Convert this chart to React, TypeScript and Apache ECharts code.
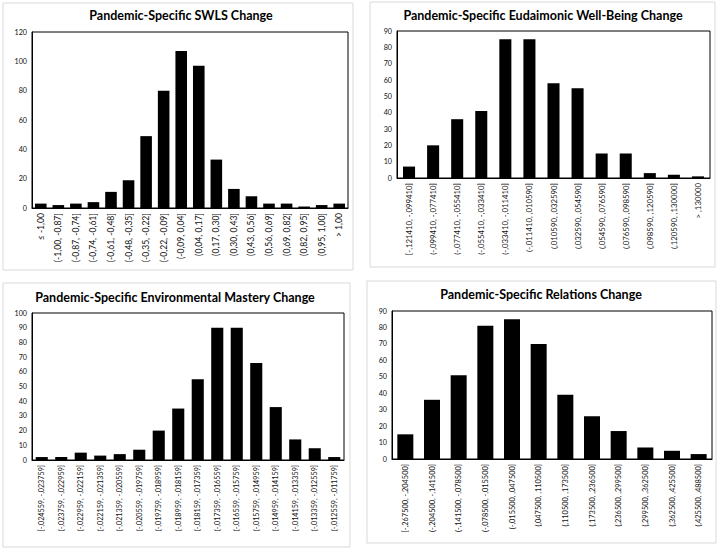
import React, { useEffect, useRef } from "react";
import * as echarts from "echarts";

const swlsCategories = [
  "≤ -1,00", "(-1,00, -0,87]", "(-0,87, -0,74]", "(-0,74, -0,61]", "(-0,61, -0,48]",
  "(-0,48, -0,35]", "(-0,35, -0,22]", "(-0,22, -0,09]", "(-0,09, 0,04]", "(0,04, 0,17]",
  "(0,17, 0,30]", "(0,30, 0,43]", "(0,43, 0,56]", "(0,56, 0,69]", "(0,69, 0,82]",
  "(0,82, 0,95]", "(0,95, 1,00]", "> 1,00",
];
const swlsValues = [3, 2, 3, 4, 11, 19, 49, 80, 107, 97, 33, 13, 8, 3, 3, 1, 2, 3];

const eudCategories = [
  "[-,121410, -,099410]", "(-,099410, -,077410]", "(-,077410, -,055410]", "(-,055410, -,033410]",
  "(-,033410, -,011410]", "(-,011410, ,010590]", "(,010590, ,032590]", "(,032590, ,054590]",
  "(,054590, ,076590]", "(,076590, ,098590]", "(,098590, ,120590]", "(,120590, ,130000]",
  "> ,130000",
];
const eudValues = [7, 20, 36, 41, 85, 85, 58, 55, 15, 15, 3, 2, 1];

const envCategories = [
  "[-,024559, -,023759]", "(-,023759, -,022959]", "(-,022959, -,022159]", "(-,022159, -,021359]",
  "(-,021359, -,020559]", "(-,020559, -,019759]", "(-,019759, -,018959]", "(-,018959, -,018159]",
  "(-,018159, -,017359]", "(-,017359, -,016559]", "(-,016559, -,015759]", "(-,015759, -,014959]",
  "(-,014959, -,014159]", "(-,014159, -,013359]", "(-,013359, -,012559]", "(-,012559, -,011759]",
];
const envValues = [2, 2, 5, 3, 4, 7, 20, 35, 55, 90, 90, 66, 36, 14, 8, 2];

const relCategories = [
  "[-,267500, -,204500]", "(-,204500, -,141500]", "(-,141500, -,078500]", "(-,078500, -,015500]",
  "(-,015500, ,047500]", "(,047500, ,110500]", "(,110500, ,173500]", "(,173500, ,236500]",
  "(,236500, ,299500]", "(,299500, ,362500]", "(,362500, ,425500]", "(,425500, ,488500]",
];
const relValues = [15, 36, 51, 81, 85, 70, 39, 26, 17, 7, 5, 3];

const titles = [
  "Pandemic-Specific SWLS Change",
  "Pandemic-Specific Eudaimonic Well-Being Change",
  "Pandemic-Specific Environmental Mastery Change",
  "Pandemic-Specific Relations Change",
];
const yMax = [120, 90, 100, 90];
const yStep = [20, 10, 10, 10];

const FONT = "Lato";

export default function App() {
  const ref = useRef<HTMLDivElement>(null);
  useEffect(() => {
    document.body.style.margin = "0";
    const chart = echarts.init(ref.current!, null, { renderer: "svg" });
    const cats = [swlsCategories, eudCategories, envCategories, relCategories];
    const vals = [swlsValues, eudValues, envValues, relValues];
    const grids = [
      { left: 32, top: 32, width: 316, height: 176 },
      { left: 397, top: 31, width: 313, height: 147 },
      { left: 32, top: 313, width: 312, height: 147 },
      { left: 392, top: 311, width: 320, height: 148 },
    ];
    const titlePos = [
      { left: 181, top: 9 },
      { left: 543, top: 9 },
      { left: 175, top: 291 },
      { left: 541, top: 288 },
    ];
    const gaps = ["34%", "50%", "38%", "40%"];
    const xFont = [8.6, 7.8, 7.2, 7.4];
    const panels = [
      { x: 3, y: 3, width: 350, height: 267 },
      { x: 370, y: 2, width: 345, height: 265 },
      { x: 3, y: 283, width: 347, height: 264 },
      { x: 367, y: 281, width: 349, height: 262 },
    ];
    const option: any = {
      animation: false,
      backgroundColor: "#ffffff",
      graphic: panels.map((p) => ({
        type: "rect",
        shape: p,
        style: { fill: "#ffffff", stroke: "#d9d9d9", lineWidth: 1 },
        z: -10,
        silent: true,
      })),
      title: titles.map((t, i) => ({
        text: t,
        left: titlePos[i].left,
        top: titlePos[i].top,
        textAlign: "center",
        padding: 0,
        textStyle: { fontFamily: FONT, fontSize: 12.5, fontWeight: "bold", color: "#000" },
      })),
      grid: grids.map((g) => ({
        ...g,
        show: true,
        borderColor: "#000",
        borderWidth: 1,
        backgroundColor: "transparent",
        containLabel: false,
      })),
      xAxis: cats.map((c, i) => ({
        type: "category",
        gridIndex: i,
        data: c,
        axisLine: { lineStyle: { color: "#000", width: 1 } },
        axisTick: { show: false },
        axisLabel: {
          interval: 0,
          rotate: 90,
          margin: 5,
          fontFamily: FONT,
          fontSize: xFont[i],
          color: "#111",
        },
      })),
      yAxis: cats.map((c, i) => ({
        type: "value",
        gridIndex: i,
        min: 0,
        max: yMax[i],
        interval: yStep[i],
        axisLine: { show: true, lineStyle: { color: "#000", width: 1 } },
        axisTick: { show: false },
        splitLine: { show: false },
        axisLabel: { fontFamily: FONT, fontSize: 7.2, color: "#111", margin: 5 },
      })),
      series: vals.map((v, i) => ({
        type: "bar",
        xAxisIndex: i,
        yAxisIndex: i,
        data: v,
        barCategoryGap: gaps[i],
        itemStyle: { color: "#000" },
      })),
    };
    chart.setOption(option);
    return () => chart.dispose();
  }, []);
  return <div ref={ref} style={{ width: 720, height: 553 }} />;
}
